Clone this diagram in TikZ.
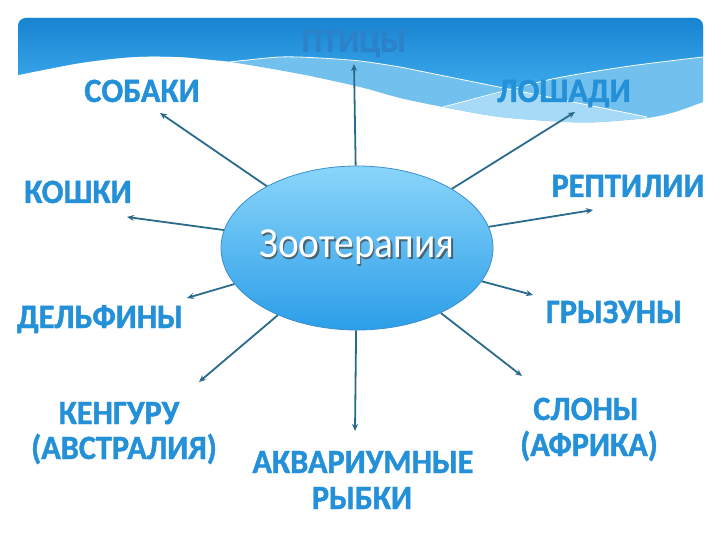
\documentclass[tikz,border=0pt]{standalone}
\usepackage{fontspec}
\setmainfont{Carlito}
\newfontfamily\lblfont[FakeStretch=0.95, FakeBold=1.2]{Carlito Bold}
\newfontfamily\zoofont[FakeStretch=0.92]{Carlito}
\usetikzlibrary{arrows.meta,shapes.geometric}
\definecolor{bandtop}{HTML}{1884D2}
\definecolor{bandbot}{HTML}{3DAAEC}
\definecolor{bandmid}{HTML}{72C0EE}
\definecolor{bandlight}{HTML}{A6DAF6}
\definecolor{lblblue}{HTML}{2490D8}
\definecolor{ptblue}{HTML}{2C82C9}
\definecolor{arrcol}{HTML}{2A6A8C}
\definecolor{elltop}{HTML}{8AD5FA}
\definecolor{ellbot}{HTML}{2B9EE8}
\definecolor{elldraw}{HTML}{3C8ECF}
\tikzset{
  lbl/.style={font=\fontsize{34bp}{38bp}\lblfont, text=lblblue, inner sep=0pt, anchor=base},
  arr/.style={draw=arrcol, line width=1.8bp, -{Stealth[length=7bp,width=6bp]}},
  wline/.style={draw=white, line width=0.8bp}
}
\begin{document}
\begin{tikzpicture}[x=1bp,y=-1bp]
\useasboundingbox (0,0) rectangle (720,540);
% band base
\fill[bandmid] (18,75) [rounded corners=8bp] -- (18,18) -- (703,18) [sharp corners] -- (703,102)
  -- plot[smooth] coordinates {(703,102) (675,112) (647,118) (600,122) (567,122) (500,117) (443,107) (400,98) (360,87) (300,74) (230,62) (180,57) (133,57) (80,63) (18,75)} -- cycle;
% light wedge
\fill[bandlight] (443,107) -- (512,90) -- (647,117)
  -- plot[smooth] coordinates {(647,118) (600,122) (567,122) (500,117) (443,107)} -- cycle;
% dark top region
\shade[top color=bandtop, bottom color=bandbot] (18,75) [rounded corners=8bp] -- (18,18) -- (703,18) [sharp corners] -- (703,57)
  -- plot[smooth] coordinates {(703,57) (630,66) (557,78) (512,90)}
  -- plot[smooth] coordinates {(512,90) (400,67) (360,61) (320,58) (280,57) (230,61) (180,57) (133,57) (80,63) (18,75)} -- cycle;
% thin white lines
\draw[wline] plot[smooth] coordinates {(230,62) (280,57) (320,58) (360,61) (400,67)} -- (647,117);
\draw[wline] plot[smooth] coordinates {(443,107) (500,92) (557,78) (630,66) (703,57)};

% central ellipse
\node[ellipse, minimum width=272bp, minimum height=164bp, inner sep=0pt, draw=elldraw, line width=0.8bp,
      top color=elltop, bottom color=ellbot] (zoo) at (357,248) {};
\node[font=\fontsize{43bp}{47bp}\zoofont, text=black!75, opacity=0.7, inner sep=0pt, anchor=base] (zoosh) at (358.5,259.5) {Зоотерапия};
\node[font=\fontsize{43bp}{47bp}\zoofont, text=white, inner sep=0pt, anchor=base] (zootx) at (357,258) {Зоотерапия};

% labels
\node[lbl, text=ptblue] (pti) at (354,52) {ПТИЦЫ};
\node[lbl] (sob) at (142,102) {СОБАКИ};
\node[lbl] (los) at (564,102) {ЛОШАДИ};
\node[lbl] (kos) at (78,203) {КОШКИ};
\node[lbl] (rep) at (628,197) {РЕПТИЛИИ};
\node[lbl] (del) at (100,328) {ДЕЛЬФИНЫ};
\node[lbl] (gry) at (614,323) {ГРЫЗУНЫ};
\node[lbl] (ken1) at (119,424) {КЕНГУРУ};
\node[lbl] (ken2) at (124,459) {(АВСТРАЛИЯ)};
\node[lbl] (akv1) at (363,473) {АКВАРИУМНЫЕ};
\node[lbl] (akv2) at (362,509) {РЫБКИ};
\node[lbl] (slo1) at (586,420) {СЛОНЫ};
\node[lbl] (slo2) at (589,456) {(АФРИКА)};

% arrow tips
\coordinate (tpti) at (354,64);
\coordinate (tsob) at (160,113);
\coordinate (tlos) at (575,112);
\coordinate (tkos) at (127,217);
\coordinate (trep) at (593,210);
\coordinate (tdel) at (187,298);
\coordinate (tgry) at (533,295);
\coordinate (tken) at (199,382);
\coordinate (takv) at (355,431);
\coordinate (tslo) at (522,376);

\foreach \t in {tpti,tsob,tlos,tkos,trep,tdel,tgry,tken,takv,tslo}
  \draw[arr] (zoo) -- (\t);
\end{tikzpicture}
\end{document}
